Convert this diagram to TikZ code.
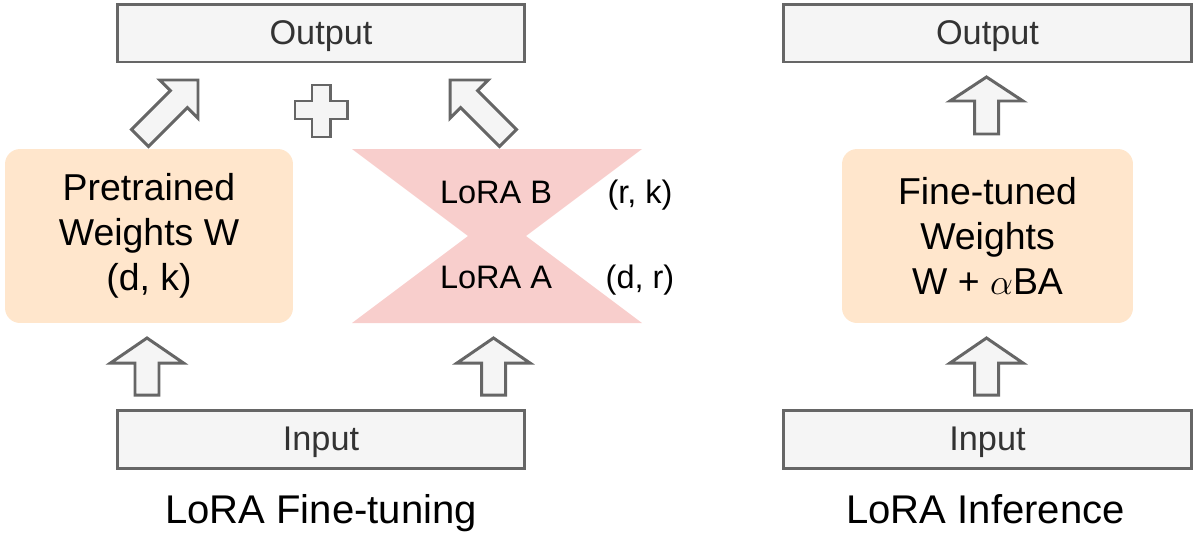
\documentclass[tikz,border=0pt]{standalone}
\usepackage{fontspec}
\setmainfont{Liberation Sans}
\definecolor{boxgray}{HTML}{F5F5F5}
\definecolor{linegray}{HTML}{666666}
\definecolor{textgray}{HTML}{333333}
\definecolor{weightorange}{HTML}{FFE6CC}
\definecolor{lorapink}{HTML}{F8CECC}
\tikzset{
  arrowbox/.style={draw=linegray, fill=boxgray, line width=1.7pt},
  pics/blockarrow/.style n args={3}{code={
    \draw[arrowbox] (0,0) -- (#3,#2) -- (12,#2) -- (12,#1) -- (-12,#1)
      -- (-12,#2) -- (-#3,#2) -- cycle;
  }},
}

\begin{document}
\begin{tikzpicture}[x=0.02cm, y=-0.02cm,
  iobox/.style={arrowbox, minimum height=1.16cm, text=textgray,
    font=\fontsize{19.5}{23}\selectfont, text height=13.5pt, text depth=0pt},
  weightbox/.style={fill=weightorange, rounded corners=0.3cm, minimum height=3.48cm,
    align=center, font=\fontsize{21.3}{25.6}\selectfont},
  loratext/.style={anchor=base, font=\fontsize{18.5}{22}\selectfont},
  caption/.style={anchor=base, font=\fontsize{22.8}{27}\selectfont}]
  \useasboundingbox (0,0) rectangle (1195,538);

  %% 1. LoRA fine-tuning
  \node[iobox, minimum width=8.16cm] (outL) at (321,33) {Output};
  \node[iobox, minimum width=8.16cm] (inL) at (321,439) {Input};
  \node[weightbox, minimum width=5.76cm] (pre) at (149,236) {Pretrained\\Weights W\\(d, k)};

  \fill[lorapink] (352,149) -- (642,149) -- (526,236) -- (468,236) -- cycle;
  \fill[lorapink] (468,236) -- (526,236) -- (642,323) -- (352,323) -- cycle;
  \node[loratext] (loraB) at (496,203) {LoRA B};
  \node[loratext] (loraA) at (496,288) {LoRA A};
  \node[loratext] (dimB) at (640,203) {(r, k)};
  \node[loratext] (dimA) at (640,288) {(d, r)};

  \pic[rotate=-45] at (198,80) {blockarrow={82}{27}{27}};
  \pic[rotate=45] at (450,80) {blockarrow={82}{27}{27}};
  \pic at (147,338) {blockarrow={57}{25}{36.5}};
  \pic at (493.5,338) {blockarrow={57}{25}{36.5}};
  \draw[arrowbox] (312,85) -- (330,85) -- (330,101) -- (347,101) -- (347,119)
    -- (330,119) -- (330,137) -- (312,137) -- (312,119) -- (295,119)
    -- (295,101) -- (312,101) -- cycle;

  \node[caption] (capL) at (321,523) {LoRA Fine-tuning};

  %% 2. LoRA inference
  \node[iobox, minimum width=8.18cm] (outR) at (987.5,33) {Output};
  \node[iobox, minimum width=8.18cm] (inR) at (987.5,439) {Input};
  \node[weightbox, minimum width=5.82cm] (tuned) at (987.5,236) {Fine-tuned\\Weights\\W + $\alpha$BA};

  \pic at (986.5,77) {blockarrow={57}{24}{36.5}};
  \pic at (986.5,338) {blockarrow={57}{25}{36.5}};

  \node[caption] (capR) at (985.5,523) {LoRA Inference};
\end{tikzpicture}
\end{document}
